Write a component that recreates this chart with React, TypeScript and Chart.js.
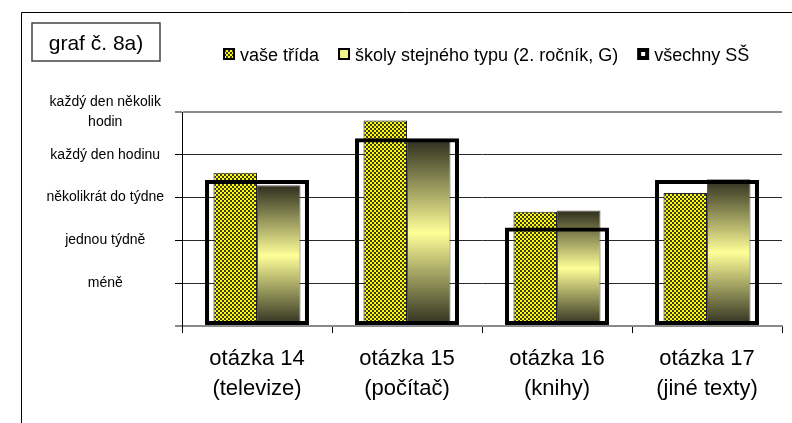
import React, { useEffect, useRef } from 'react';
import { Chart, registerables } from 'chart.js';

Chart.register(...registerables);

// ---- data ----
const categories = [
  ['otázka 14', '(televize)'],
  ['otázka 15', '(počítač)'],
  ['otázka 16', '(knihy)'],
  ['otázka 17', '(jiné texty)'],
];
const vaseTrida = [3.58, 4.8, 2.67, 3.11];
const skolyStejnehoTypu = [3.29, 4.36, 2.7, 3.43];
const vsechnySS = [3.41, 4.385, 2.3, 3.41];
const yTickLabels: (string | string[])[] = [
  '',
  'méně',
  'jednou týdně',
  'několikrát do týdne',
  'každý den hodinu',
  ['každý den několik', 'hodin'],
];
const seriesNames = ['vaše třída', 'školy stejného typu (2. ročník, G)', 'všechny SŠ'];
const chartLabel = 'graf č. 8a)';

const FONT = "'Liberation Sans', Arial, sans-serif";

function makeChecker(): CanvasPattern | string {
  const c = document.createElement('canvas');
  c.width = 4;
  c.height = 4;
  const x = c.getContext('2d');
  if (!x) return '#ffff00';
  x.fillStyle = '#3a3a32';
  x.fillRect(0, 0, 4, 4);
  x.fillStyle = '#ffff00';
  x.fillRect(0, 0, 2, 2);
  x.fillRect(2, 2, 2, 2);
  return x.createPattern(c, 'repeat') || '#ffff00';
}

export default function App() {
  const ref = useRef<HTMLCanvasElement | null>(null);

  useEffect(() => {
    document.body.style.margin = '0';
    const canvas = ref.current;
    if (!canvas) return;
    const checker = makeChecker();

    const gradientFill = (ctx: any) => {
      const chart = ctx.chart;
      const ys = chart.scales && chart.scales.y;
      if (!chart.chartArea || !ys || ctx.raw == null) return '#ffff99';
      const top = ys.getPixelForValue(ctx.raw);
      const bot = ys.getPixelForValue(0);
      if (!isFinite(top) || !isFinite(bot) || bot - top < 1) return '#ffff99';
      const g = chart.ctx.createLinearGradient(0, top, 0, bot);
      g.addColorStop(0, '#2d2d1e');
      g.addColorStop(0.5, '#ffff99');
      g.addColorStop(1, '#2d2d1e');
      return g;
    };

    const decor = {
      id: 'decor',
      beforeDraw(chart: any) {
        const c = chart.ctx;
        c.save();
        c.fillStyle = '#fff';
        c.fillRect(0, 0, chart.width, chart.height);
        c.strokeStyle = '#000';
        c.lineWidth = 1;
        c.beginPath();
        c.moveTo(21.5, chart.height);
        c.lineTo(21.5, 12.5);
        c.lineTo(chart.width, 12.5);
        c.stroke();
        c.restore();
      },
      afterDraw(chart: any) {
        const c = chart.ctx;
        c.save();
        // label box
        c.strokeStyle = '#444';
        c.lineWidth = 1.5;
        c.strokeRect(32, 23, 128, 38);
        c.fillStyle = '#000';
        c.font = `21px ${FONT}`;
        c.textAlign = 'center';
        c.textBaseline = 'alphabetic';
        c.fillText(chartLabel, 96, 50);

        // legend
        c.font = `18px ${FONT}`;
        c.textAlign = 'left';
        const bs = 12;
        const by = 48;
        let x = 223;
        const swatches = [
          (sx: number) => {
            c.fillStyle = '#000';
            c.fillRect(sx, by, bs, bs);
            c.fillStyle = checker;
            c.fillRect(sx + 2, by + 2, bs - 4, bs - 4);
          },
          (sx: number) => {
            c.fillStyle = '#000';
            c.fillRect(sx, by, bs, bs);
            c.fillStyle = '#f2f28e';
            c.fillRect(sx + 2, by + 2, bs - 4, bs - 4);
          },
          (sx: number) => {
            c.fillStyle = '#000';
            c.fillRect(sx, by, bs, bs);
            c.fillStyle = '#fff';
            c.fillRect(sx + 4, by + 4, bs - 8, bs - 8);
          },
        ];
        seriesNames.forEach((name, i) => {
          swatches[i](x);
          c.fillStyle = '#000';
          c.fillText(name, x + bs + 5, 60.5);
          x += bs + 5 + c.measureText(name).width + 19;
        });
        c.restore();
      },
    };

    const isEdge = (ctx: any) => {
      const v = ctx.tick ? ctx.tick.value : null;
      return v === 0 || v === 5;
    };

    const chart = new Chart(canvas, {
      type: 'bar',
      data: {
        labels: categories as any,
        datasets: [
          {
            label: seriesNames[2],
            data: vsechnySS,
            grouped: false,
            backgroundColor: 'rgba(0,0,0,0)',
            borderColor: '#000',
            borderWidth: 4,
            borderSkipped: false,
            categoryPercentage: 1,
            barPercentage: 0.693,
            order: 0,
          } as any,
          {
            label: seriesNames[0],
            data: vaseTrida,
            backgroundColor: checker as any,
            borderColor: '#222',
            borderWidth: 1,
            borderSkipped: false,
            categoryPercentage: 0.58,
            barPercentage: 1,
            order: 1,
          } as any,
          {
            label: seriesNames[1],
            data: skolyStejnehoTypu,
            backgroundColor: gradientFill as any,
            borderColor: '#555',
            borderWidth: 1,
            borderSkipped: false,
            categoryPercentage: 0.58,
            barPercentage: 1,
            order: 1,
          } as any,
        ],
      },
      options: {
        responsive: false,
        animation: false,
        layout: { padding: { top: 112, right: 10, bottom: 0, left: 0 } },
        plugins: {
          legend: { display: false },
          tooltip: { enabled: false },
          title: { display: false },
        },
        scales: {
          x: {
            type: 'category',
            offset: true,
            grid: {
              offset: true,
              drawOnChartArea: true,
              color: (c: any) => (c.index === 4 ? '#8a8a8a' : 'rgba(0,0,0,0)'),
              lineWidth: (c: any) => (c.index === 4 ? 2 : 1),
              tickColor: '#000',
              tickWidth: 1,
              tickLength: 7,
            },
            border: { display: true, color: '#8a8a8a', width: 2 },
            ticks: {
              color: '#000',
              font: { family: FONT, size: 22, lineHeight: 1.35 },
              padding: 11,
              maxRotation: 0,
              autoSkip: false,
            },
            afterFit: (s: any) => {
              s.height = 97;
            },
          },
          y: {
            min: 0,
            max: 5,
            ticks: {
              stepSize: 1,
              callback: (v: any) => yTickLabels[v] ?? '',
              color: '#000',
              font: { family: FONT, size: 14, lineHeight: 1.4 },
              padding: 11,
              crossAlign: 'center',
            },
            grid: {
              color: (c: any) => (isEdge(c) ? '#8a8a8a' : '#2a2a2a'),
              lineWidth: (c: any) => (isEdge(c) ? 2 : 1),
              tickColor: (c: any) => (isEdge(c) ? '#8a8a8a' : '#000'),
              tickLength: 7,
            },
            border: { display: true, color: '#000', width: 1 },
            afterFit: (s: any) => {
              s.width = 182;
            },
          },
        },
      } as any,
      plugins: [decor],
    });

    return () => {
      chart.destroy();
    };
  }, []);

  return (
    <div style={{ width: 792, height: 423, overflow: 'hidden', position: 'relative' }}>
      <canvas ref={ref} width={792} height={423} style={{ display: 'block' }} />
    </div>
  );
}
